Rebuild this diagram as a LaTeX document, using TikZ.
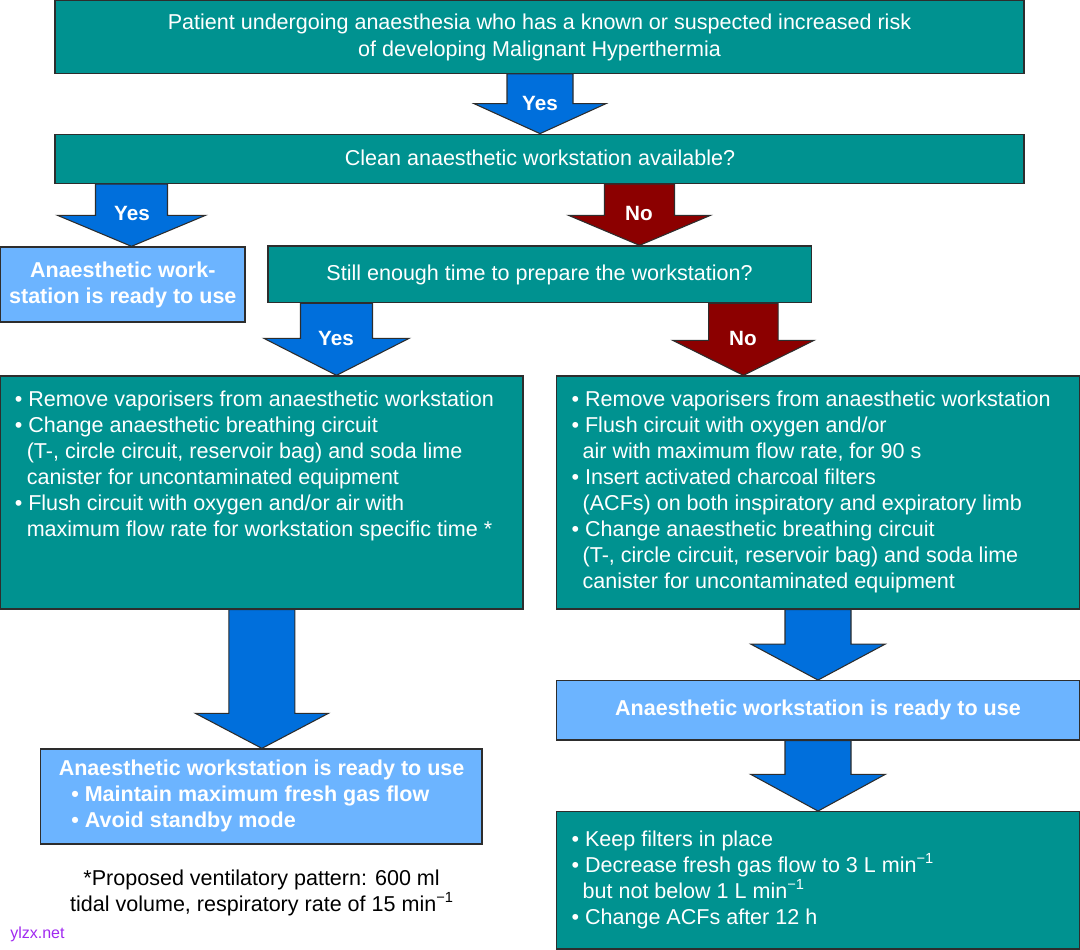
\documentclass[tikz,border=0pt]{standalone}
\usepackage{fontspec}
\setmainfont{Liberation Sans}
\usetikzlibrary{calc,fit}
\definecolor{mhteal}{RGB}{0,146,144}
\definecolor{mhlight}{RGB}{108,180,255}
\definecolor{mhblue}{RGB}{0,111,220}
\definecolor{mhred}{RGB}{140,0,0}
\definecolor{mhpurple}{RGB}{160,40,240}
\definecolor{mhedge}{RGB}{45,45,45}
\newcommand\mainfs{\fontsize{16.15}{19.5}\selectfont}
\newcommand\labfs{\fontsize{15.5}{18}\selectfont\bfseries}
\newcommand\mhsup[1]{\raisebox{0.42em}{\fontsize{11}{12}\selectfont #1}}
\newcommand\mhfatarrow[6]{%
  \draw[arrowline, fill=#6] ($(#1)+(-#3,0)$) -- ($(#2)+(-#3,-#5)$) -- ($(#2)+(-#4,-#5)$) -- (#2) -- ($(#2)+(#4,-#5)$) -- ($(#2)+(#3,-#5)$) -- ($(#1)+(#3,0)$) -- cycle;}
\tikzset{
  tealbox/.style={draw=mhedge, line width=1pt, fill=mhteal, inner sep=0pt, rectangle},
  lightbox/.style={draw=mhedge, line width=1pt, fill=mhlight, inner sep=0pt, rectangle},
  arrowline/.style={draw=mhedge, line width=0.8pt, line join=miter},
  wtxt/.style={inner sep=0pt, text=white, font=\mainfs},
  btxt/.style={inner sep=0pt, text=white, font=\mainfs\bfseries},
  ktxt/.style={inner sep=0pt, text=black, font=\mainfs},
  labtxt/.style={inner sep=0pt, text=white, font=\labfs},
}
\begin{document}
\begin{tikzpicture}[x=0.75pt,y=-0.75pt]
\useasboundingbox (0,0) rectangle (1080,949);
% boxes
\node[tealbox, fit={(55,0) (1024,73.3)}] (b1) {};
\node[tealbox, fit={(55,134.3) (1024,183.3)}] (b2) {};
\node[lightbox, fit={(0,247) (245,322)}] (b3) {};
\node[tealbox, fit={(268,246) (811.7,302.7)}] (b4) {};
\node[tealbox, fit={(0,376) (523,609)}] (b5) {};
\node[tealbox, fit={(556.5,376) (1080,609)}] (b6) {};
\node[lightbox, fit={(40.6,749) (482,844)}] (b7) {};
\node[lightbox, fit={(556.5,680.7) (1080,740)}] (b8) {};
\node[tealbox, fit={(556.5,811.7) (1080,949)}] (b9) {};
% arrow x positions
\coordinate (x1) at (540,0);
\coordinate (x2) at (131.5,0);
\coordinate (x3) at (639.5,0);
\coordinate (x4) at (336.5,0);
\coordinate (x5) at (743.4,0);
\coordinate (x6) at (261.9,0);
\coordinate (x7) at (818,0);
\coordinate (a1s) at (b1.south -| x1); \coordinate (a1e) at (b2.north -| x1);
\coordinate (a2s) at (b2.south -| x2); \coordinate (a2e) at (b3.north -| x2);
\coordinate (a3s) at (b2.south -| x3); \coordinate (a3e) at (b4.north -| x3);
\coordinate (a4s) at (b4.south -| x4); \coordinate (a4e) at (b5.north -| x4);
\coordinate (a5s) at (b4.south -| x5); \coordinate (a5e) at (b6.north -| x5);
\coordinate (a6s) at (b5.south -| x6); \coordinate (a6e) at (b7.north -| x6);
\coordinate (a7s) at (b6.south -| x7); \coordinate (a7e) at (b8.north -| x7);
\coordinate (a8s) at (b8.south -| x7); \coordinate (a8e) at (b9.north -| x7);
\mhfatarrow{a1s}{a1e}{33}{66}{30}{mhblue}
\mhfatarrow{a2s}{a2e}{36}{74}{31}{mhblue}
\mhfatarrow{a3s}{a3e}{35}{71}{30}{mhred}
\mhfatarrow{a4s}{a4e}{36}{72.6}{37}{mhblue}
\mhfatarrow{a5s}{a5e}{34.7}{70.7}{35}{mhred}
\mhfatarrow{a6s}{a6e}{33}{66.5}{35}{mhblue}
\mhfatarrow{a7s}{a7e}{33}{67.3}{36}{mhblue}
\mhfatarrow{a8s}{a8e}{33}{67.3}{36.7}{mhblue}
% arrow labels
\node[labtxt, anchor=base] (l1) at (540,110) {Yes};
\node[labtxt, anchor=base] (l2) at (132,220.5) {Yes};
\node[labtxt, anchor=base] (l3) at (639,220) {No};
\node[labtxt, anchor=base] (l4) at (336,345.7) {Yes};
\node[labtxt, anchor=base] (l5) at (743,345) {No};
% texts
\node[wtxt, anchor=base] (t1a) at (539.5,29.5) {Patient undergoing anaesthesia who has a known or suspected increased risk};
\node[wtxt, anchor=base] (t1b) at (539.5,56) {of developing Malignant Hyperthermia};
\node[wtxt, anchor=base] (t2) at (540,165.5) {Clean anaesthetic workstation available?};
\node[btxt, anchor=base] (t3a) at (122.8,277.3) {Anaesthetic work-};
\node[btxt, anchor=base] (t3b) at (122.8,303.3) {station is ready to use};
\node[wtxt, anchor=base] (t4) at (539.5,280.7) {Still enough time to prepare the workstation?};
% left list
\node[wtxt, anchor=base west] (t5a) at (14.5,406.7) {• Remove vaporisers from anaesthetic workstation};
\node[wtxt, anchor=base west] (t5b) at (14.5,432.6) {• Change anaesthetic breathing circuit};
\node[wtxt, anchor=base west] (t5c) at (26.5,458.6) {(T-, circle circuit, reservoir bag) and soda lime};
\node[wtxt, anchor=base west] (t5d) at (26.5,484.5) {canister for uncontaminated equipment};
\node[wtxt, anchor=base west] (t5e) at (14.5,510.5) {• Flush circuit with oxygen and/or air with};
\node[wtxt, anchor=base west] (t5f) at (26.5,536.4) {maximum flow rate for workstation specific time *};
% right list
\node[wtxt, anchor=base west] (t6a) at (571.3,406.7) {• Remove vaporisers from anaesthetic workstation};
\node[wtxt, anchor=base west] (t6b) at (571.3,432.6) {• Flush circuit with oxygen and/or};
\node[wtxt, anchor=base west] (t6c) at (582.4,458.6) {air with maximum flow rate, for 90 s};
\node[wtxt, anchor=base west] (t6d) at (571.3,484.5) {• Insert activated charcoal filters};
\node[wtxt, anchor=base west] (t6e) at (582.4,510.5) {(ACFs) on both inspiratory and expiratory limb};
\node[wtxt, anchor=base west] (t6f) at (571.3,536.4) {• Change anaesthetic breathing circuit};
\node[wtxt, anchor=base west] (t6g) at (582.4,562.4) {(T-, circle circuit, reservoir bag) and soda lime};
\node[wtxt, anchor=base west] (t6h) at (582.4,588.3) {canister for uncontaminated equipment};
% bottom left
\node[btxt, anchor=base] (t7a) at (261.6,775.7) {Anaesthetic workstation is ready to use};
\node[btxt, anchor=base west] (t7b) at (71,801.8) {• Maintain maximum fresh gas flow};
\node[btxt, anchor=base west] (t7c) at (71,827.8) {• Avoid standby mode};
\node[ktxt, anchor=base] (fn1) at (261.6,885.7) {*Proposed ventilatory pattern: 600 ml};
\node[ktxt, anchor=base] (fn2) at (261.6,911.7) {tidal volume, respiratory rate of 15 min\mhsup{−1}};
% right bottom
\node[btxt, anchor=base] (t8) at (818,715.7) {Anaesthetic workstation is ready to use};
\node[wtxt, anchor=base west] (t9a) at (571.3,846.7) {• Keep filters in place};
\node[wtxt, anchor=base west] (t9b) at (571.3,872.6) {• Decrease fresh gas flow to 3 L min\mhsup{−1}};
\node[wtxt, anchor=base west] (t9c) at (582.4,898.5) {but not below 1 L min\mhsup{−1}};
\node[wtxt, anchor=base west] (t9d) at (571.3,924.4) {• Change ACFs after 12 h};
% watermark
\node[inner sep=0pt, text=mhpurple, font=\fontsize{12}{14}\selectfont, anchor=base west] (wm) at (10,938) {ylzx.net};
\end{tikzpicture}
\end{document}
